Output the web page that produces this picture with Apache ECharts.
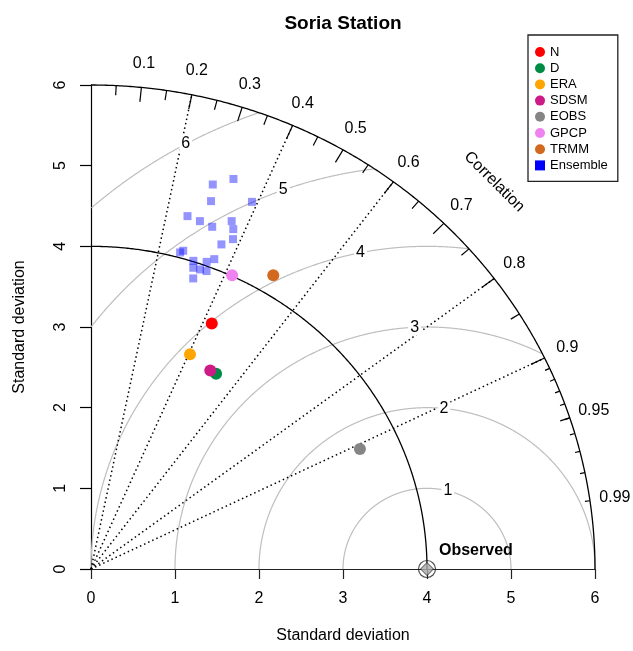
<!DOCTYPE html>
<html><head><meta charset="utf-8">
<script src="https://cdn.jsdelivr.net/npm/echarts@6/dist/echarts.min.js"></script>
<style>html,body{margin:0;padding:0;background:#fff}#chart{width:633px;height:651px}</style>
</head><body><div id="chart"></div>
<script>
// ---- data ----
const modelNames = ['N', 'D', 'ERA', 'SDSM', 'EOBS', 'GPCP', 'TRMM'];
const modelStdDev = [3.367, 2.842, 2.910, 2.840, 3.530, 4.009, 4.238];
const modelCorr = [0.427, 0.524, 0.405, 0.500, 0.907, 0.419, 0.512];
const ensembleStdDev = [5.124, 4.982, 4.779, 4.938, 4.523, 4.503, 4.626, 4.481, 4.541, 4.425,
                        4.313, 4.095, 4.065, 4.112, 4.010, 4.049, 3.928, 3.934, 3.941, 3.802];
const ensembleCorr = [0.331, 0.291, 0.299, 0.388, 0.254, 0.288, 0.362, 0.322, 0.373, 0.382,
                      0.360, 0.268, 0.261, 0.357, 0.304, 0.340, 0.310, 0.330, 0.349, 0.320];
const observedStdDev = 4;
const sdTicks = [0, 1, 2, 3, 4, 5, 6];
const corrLabels = [0.1, 0.2, 0.3, 0.4, 0.5, 0.6, 0.7, 0.8, 0.9, 0.95, 0.99];
const corrGridLines = [0.2, 0.4, 0.6, 0.8, 0.9];
const rmsLevels = [1, 2, 3, 4, 5, 6];
const maxSd = 6;

// ---- styles ----
const FONT = '"Liberation Sans", Arial, Helvetica, sans-serif';
const modelColors = ['#ff0000', '#008b45', '#ffa500', '#cd1a87', '#858585', '#ee82ee', '#d2691e'];

// ---- geometry helpers ----
const toXY = (sd, r) => [sd * r, sd * Math.sqrt(Math.max(0, 1 - r * r))];
function arcPts(radius, n) {
  const pts = [];
  for (let k = 0; k <= n; k++) { const t = Math.PI / 2 * k / n; pts.push([radius * Math.cos(t), radius * Math.sin(t)]); }
  return pts;
}
const outerArc = arcPts(maxSd, 360);
const refArc = arcPts(observedStdDev, 360);
const rmsArcs = rmsLevels.map(g => {
  const pts = [];
  for (let k = 0; k <= 1440; k++) {
    const t = Math.PI * k / 1440;
    const x = observedStdDev + g * Math.cos(t), y = g * Math.sin(t);
    if (x >= 0 && x * x + y * y <= maxSd * maxSd + 1e-9) pts.push([x, y]);
  }
  return pts;
});
const corrLinePaths = corrGridLines.map(c => [[0, 0], toXY(maxSd, c)]);
const tick = (c, f) => [toXY(maxSd, c), toXY(maxSd * f, c)];
const bigTicks = [0.1, 0.2, 0.3, 0.4, 0.5, 0.6, 0.7, 0.8, 0.9].map(c => tick(c, 0.97));
const medTicks = [0.05, 0.15, 0.25, 0.35, 0.45, 0.55, 0.65, 0.75, 0.85, 0.95].map(c => tick(c, 0.98));
const smlTicks = [0.91, 0.92, 0.93, 0.94, 0.95, 0.96, 0.97, 0.98, 0.99].map(c => tick(c, 0.99));

function pathSeries(paths, style, z) {
  return {
    type: 'custom', coordinateSystem: 'cartesian2d', silent: true, z: z, clip: false,
    data: paths.map(p => p[0]),
    renderItem: (params, api) => ({
      type: 'polyline',
      shape: { points: paths[params.dataIndex].map(pt => api.coord(pt)) },
      style: Object.assign({ fill: null }, style)
    })
  };
}
function textSeries(items, z) {
  return {
    type: 'custom', coordinateSystem: 'cartesian2d', silent: true, z: z, clip: false,
    data: items.map(it => it.pos),
    renderItem: (params, api) => {
      const it = items[params.dataIndex];
      const c = api.coord(it.pos);
      return {
        type: 'text', x: c[0] + (it.dx || 0), y: c[1] + (it.dy || 0), rotation: it.rotation || 0,
        style: Object.assign({ text: it.text, fontSize: 16, fontFamily: FONT, fill: '#000',
          align: 'center', verticalAlign: 'middle' }, it.style || {})
      };
    }
  };
}

const corrLabelItems = corrLabels.map(c => ({ pos: toXY(maxSd * 1.05, c), text: String(c) }));
corrLabelItems.push({ pos: [maxSd * 0.8, maxSd * 0.8], text: 'Correlation', rotation: -Math.PI / 4 });
const rmsLabelItems = rmsLevels.map((g, i) => {
  const a = (45 + 5 * i - 1) * 0.03;
  return { pos: [observedStdDev + g * Math.cos(a), g * Math.sin(a)], text: String(g),
    style: { backgroundColor: '#fff', padding: [0, 2, 0, 2] } };
});
const observedLabel = [{ pos: [observedStdDev, 0], text: 'Observed', dx: 12, dy: -18,
  style: { align: 'left', fontWeight: 'bold', fontSize: 16 } }];

const series = [
  pathSeries(rmsArcs, { stroke: '#bebebe', lineWidth: 1.2 }, 1),
  pathSeries(corrLinePaths, { stroke: '#000', lineWidth: 1.5, lineDash: [1.5, 3] }, 2),
  pathSeries(outerArc ? [outerArc] : [], { stroke: '#000', lineWidth: 1.3 }, 3),
  pathSeries([refArc], { stroke: '#000', lineWidth: 1.3 }, 3),
  pathSeries(bigTicks.concat(medTicks, smlTicks), { stroke: '#000', lineWidth: 1.2 }, 3),
  textSeries(rmsLabelItems, 4),
  textSeries(corrLabelItems, 4),
  {
    name: 'Ensemble', type: 'scatter', symbol: 'rect', symbolSize: 8, z: 5,
    itemStyle: { color: '#0000ff', opacity: 0.42 },
    data: ensembleStdDev.map((sd, i) => toXY(sd, ensembleCorr[i]))
  }
];
modelNames.forEach((n, i) => {
  series.push({ name: n, type: 'scatter', symbol: 'circle', symbolSize: 12, z: 6,
    itemStyle: { color: modelColors[i], opacity: 1 },
    data: [toXY(modelStdDev[i], modelCorr[i])] });
});
series.push({ type: 'scatter', symbol: 'circle', symbolSize: 17, z: 7, silent: true,
  itemStyle: { color: 'rgba(0,0,0,0)', borderColor: '#222', borderWidth: 1.2 },
  data: [[observedStdDev, 0]] });
series.push({ type: 'scatter', symbol: 'diamond', symbolSize: 13, z: 8, silent: true,
  itemStyle: { color: '#aaaaaa', borderColor: '#222', borderWidth: 1 },
  data: [[observedStdDev, 0]] });
series.push(textSeries(observedLabel, 9));

const legendData = modelNames.map(n => ({ name: n, icon: 'circle' }))
  .concat([{ name: 'Ensemble', icon: 'rect', itemStyle: { color: '#0000ff', opacity: 1 } }]);

const chart = echarts.init(document.getElementById('chart'), null, { renderer: 'canvas' });
chart.setOption({
  animation: false,
  backgroundColor: '#fff',
  grid: { left: 91, right: 38, top: 85, bottom: 82, containLabel: false },
  xAxis: {
    type: 'value', min: sdTicks[0], max: sdTicks[sdTicks.length - 1], interval: 1,
    axisLine: { show: true, onZero: false, lineStyle: { color: '#222', width: 1.2 } },
    axisTick: { show: true, length: 10, lineStyle: { color: '#222', width: 1.2 } },
    axisLabel: { fontSize: 16, fontFamily: FONT, color: '#000', margin: 22 },
    splitLine: { show: false }
  },
  yAxis: {
    type: 'value', min: sdTicks[0], max: sdTicks[sdTicks.length - 1], interval: 1,
    axisLine: { show: true, onZero: false, lineStyle: { color: '#000', width: 1.2 } },
    axisTick: { show: true, length: 11, lineStyle: { color: '#000', width: 1.2 } },
    axisLabel: { fontSize: 16, fontFamily: FONT, color: '#000', margin: 22, rotate: 90 },
    splitLine: { show: false }
  },
  legend: {
    orient: 'vertical', left: 528, top: 35, selectedMode: false,
    data: legendData,
    itemWidth: 10, itemHeight: 10, itemGap: 2.2,
    padding: [10, 10, 9, 7],
    borderColor: '#222', borderWidth: 1.3, backgroundColor: '#fff',
    textStyle: { fontSize: 13, fontFamily: FONT, color: '#000', lineHeight: 14 }
  },
  graphic: [
    { type: 'text', x: 343, y: 24, style: { text: 'Soria Station', font: 'bold 19px ' + FONT,
      fill: '#000', align: 'center', verticalAlign: 'middle' } },
    { type: 'text', x: 343, y: 636, style: { text: 'Standard deviation', font: '16px ' + FONT,
      fill: '#000', align: 'center', verticalAlign: 'middle' } },
    { type: 'text', x: 20, y: 327, rotation: Math.PI / 2, style: { text: 'Standard deviation',
      font: '16px ' + FONT, fill: '#000', align: 'center', verticalAlign: 'middle' } }
  ],
  series: series
});
</script>
</body></html>
